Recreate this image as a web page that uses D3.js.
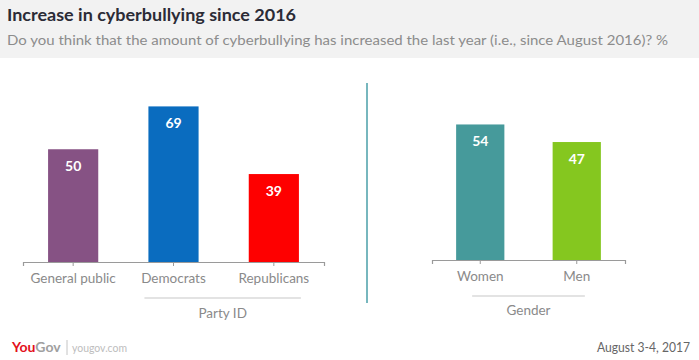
<!DOCTYPE html>
<html>
<head>
<meta charset="utf-8">
<script src="https://cdn.jsdelivr.net/npm/d3@7"></script>
<style>
  html, body { margin: 0; padding: 0; background: #fff; }
  svg { display: block; font-family: Lato, "Open Sans", sans-serif; }
</style>
</head>
<body>
<svg id="chart" width="699" height="360"></svg>
<script>
const title = "Increase in cyberbullying since 2016";
const subtitle = "Do you think that the amount of cyberbullying has increased the last year (i.e., since August 2016)? %";
const partyCategories = ["General public", "Democrats", "Republicans"];
const partyValues = [50, 69, 39];
const partyColors = ["#865284", "#0a6cbf", "#fe0000"];
const genderCategories = ["Women", "Men"];
const genderValues = [54, 47];
const genderColors = ["#469a9b", "#85c71f"];
const groupLabels = ["Party ID", "Gender"];
const dateLabel = "August 3-4, 2017";

const svg = d3.select("#chart");

// header
svg.append("rect").attr("x", 0).attr("y", 0).attr("width", 699).attr("height", 58).attr("fill", "#f2f2f2");
svg.append("text").attr("x", 7).attr("y", 21).attr("font-size", 17.5).attr("font-weight", 700)
  .attr("fill", "#2b2b36").attr("textLength", 289).attr("lengthAdjust", "spacingAndGlyphs").text(title);
svg.append("text").attr("x", 7).attr("y", 45).attr("font-size", 14).attr("fill", "#8c8c8c")
  .attr("textLength", 661).attr("lengthAdjust", "spacingAndGlyphs").text(subtitle);

function panel(cats, vals, cols, x0, x1, baseY, pxPerUnit, group, gx0, gx1, gy, gly) {
  const x = d3.scaleBand().domain(cats).range([x0, x1]).paddingInner(0.5).paddingOuter(0.25);
  const y = d3.scaleLinear().domain([0, 100]).range([baseY, baseY - 100 * pxPerUnit]);
  const g = svg.append("g");
  const data = cats.map((c, i) => ({ c, v: vals[i], col: cols[i] }));
  g.selectAll("rect.bar").data(data).join("rect").attr("class", "bar")
    .attr("x", d => x(d.c)).attr("width", x.bandwidth())
    .attr("y", d => y(d.v)).attr("height", d => y(0) - y(d.v))
    .attr("fill", d => d.col);
  g.selectAll("text.val").data(data).join("text").attr("class", "val")
    .attr("x", d => x(d.c) + x.bandwidth() / 2).attr("y", d => y(d.v) + 22)
    .attr("text-anchor", "middle").attr("font-size", 14).attr("font-weight", 700)
    .attr("fill", "#fff").text(d => d.v);
  const ax = g.append("g").attr("transform", `translate(0,${baseY})`)
    .call(d3.axisBottom(x).tickSizeInner(4).tickSizeOuter(4).tickPadding(7));
  ax.select(".domain").attr("stroke", "#9a9a9a").attr("stroke-width", 1.2);
  ax.selectAll(".tick line").attr("stroke", "#9a9a9a");
  ax.selectAll(".tick text").attr("font-size", 13.5).attr("fill", "#8a8a8a")
    .attr("font-family", "Lato, 'Open Sans', sans-serif");
  // group line & label
  g.append("line").attr("x1", gx0(x)).attr("x2", gx1(x)).attr("y1", gy).attr("y2", gy)
    .attr("stroke", "#c8c8c8").attr("stroke-width", 1.2);
  g.append("text").attr("x", (gx0(x) + gx1(x)) / 2).attr("y", gly).attr("text-anchor", "middle")
    .attr("font-size", 13.5).attr("fill", "#8a8a8a").text(group);
}

panel(partyCategories, partyValues, partyColors, 23, 324, 262, 2.255, groupLabels[0],
  x => x("Democrats") - 4, x => x("Republicans") + x.bandwidth() + 2, 298, 318);
panel(genderCategories, genderValues, genderColors, 432, 625, 260, 2.51, groupLabels[1],
  x => x("Women") + 16, x => x("Men") + x.bandwidth() - 16, 296, 315);

// divider
svg.append("line").attr("x1", 367).attr("x2", 367).attr("y1", 83).attr("y2", 303)
  .attr("stroke", "#4a9fa8").attr("stroke-width", 1.5);

// footer
const f = svg.append("text").attr("x", 12).attr("y", 352).attr("font-size", 14);
f.append("tspan").attr("fill", "#e3101b").attr("font-weight", 700).text("You");
f.append("tspan").attr("fill", "#a0a0a0").attr("font-weight", 700).text("Gov");
svg.append("line").attr("x1", 67).attr("x2", 67).attr("y1", 340).attr("y2", 355)
  .attr("stroke", "#c4c4c4").attr("stroke-width", 1);
svg.append("text").attr("x", 72).attr("y", 352).attr("font-size", 12).attr("fill", "#bdbdbd")
  .attr("textLength", 55).attr("lengthAdjust", "spacingAndGlyphs").text("yougov.com");
svg.append("text").attr("x", 690).attr("y", 352).attr("text-anchor", "end").attr("font-size", 12.5)
  .attr("fill", "#666").attr("textLength", 93).attr("lengthAdjust", "spacingAndGlyphs").text(dateLabel);
</script>
</body>
</html>
